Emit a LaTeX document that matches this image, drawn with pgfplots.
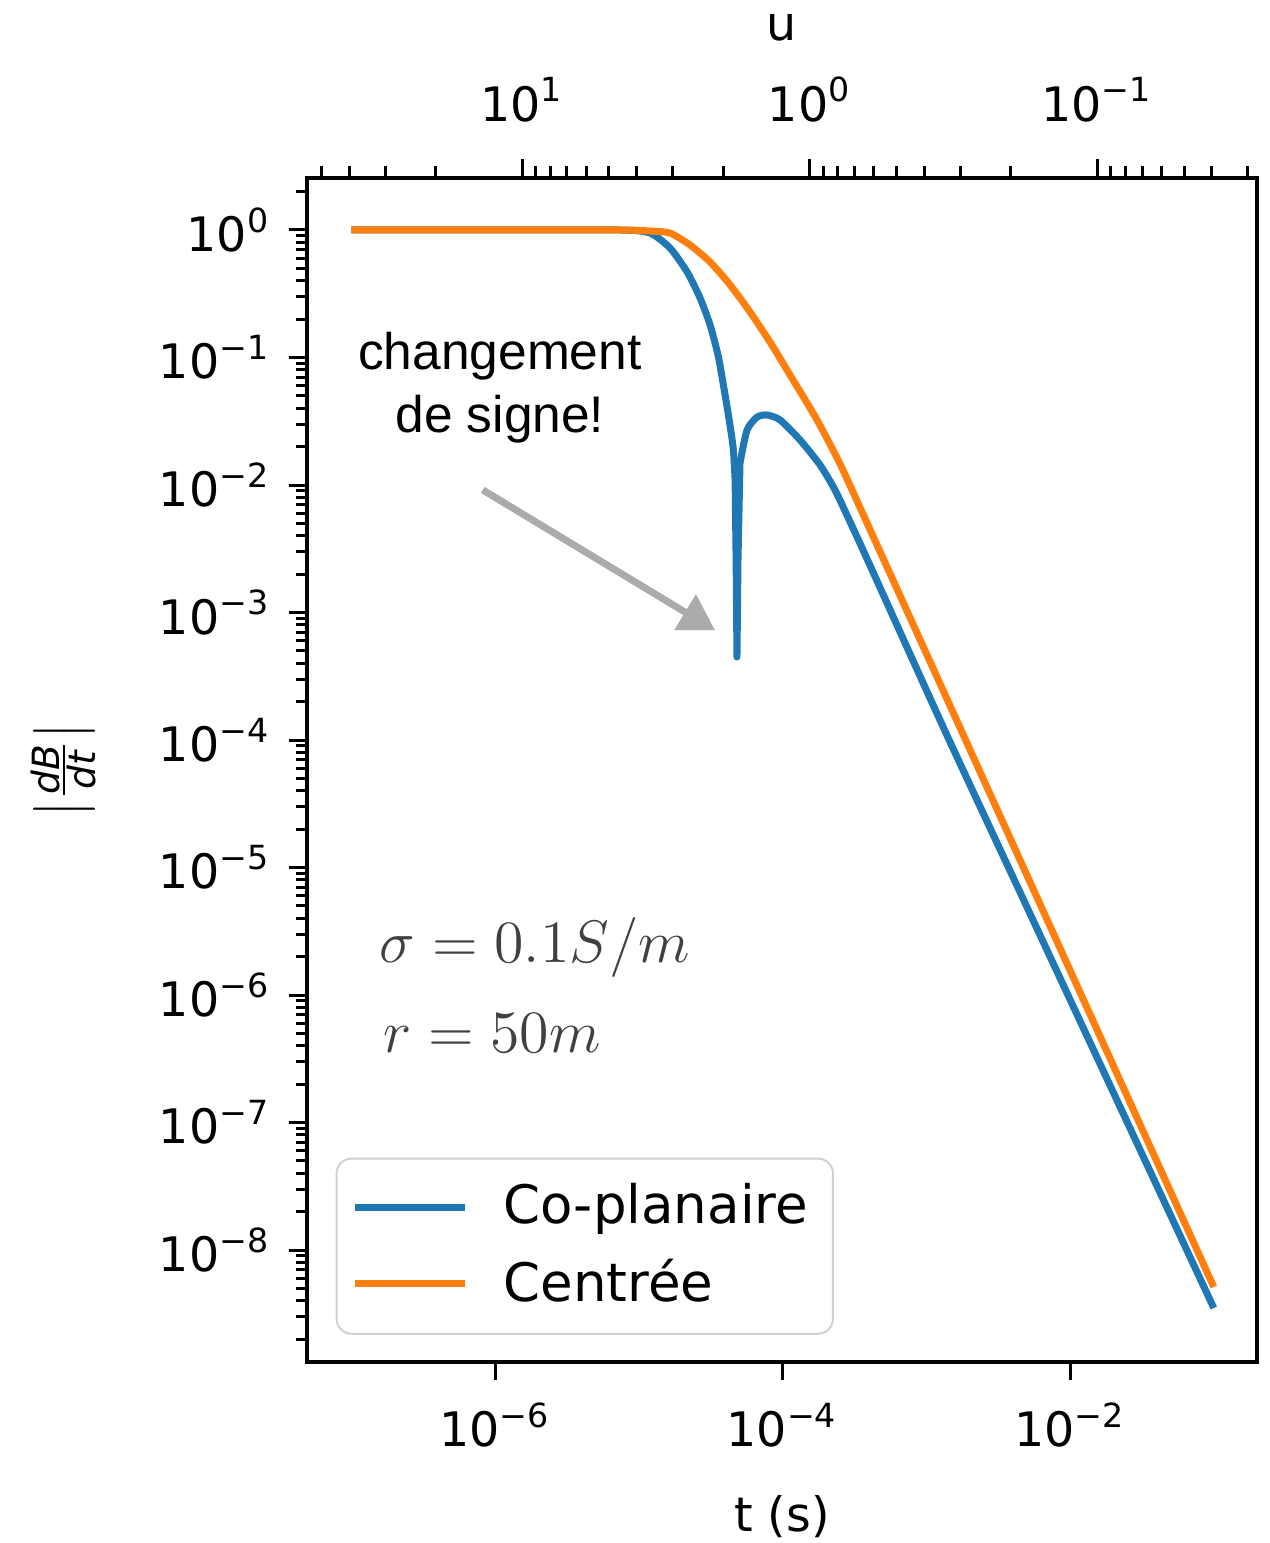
\documentclass[border=0pt]{standalone}
\usepackage{fontspec}
\setmainfont{DejaVu Sans}
\newfontfamily\helv{Liberation Sans}
\usepackage{pgfplots}
\pgfplotsset{compat=1.18}
\usetikzlibrary{arrows.meta}
\definecolor{tabblue}{HTML}{1F77B4}
\definecolor{taborange}{HTML}{FF7F0E}
\newcommand{\ee}[1]{10\textsuperscript{#1}}

\begin{document}
\begin{tikzpicture}
% main axis: t on the bottom
\begin{axis}[
    scale only axis, width=190pt, height=236.8pt,
    xmode=log, ymode=log,
    xmin=4.92e-8, xmax=0.2,
    ymin=1.324e-9, ymax=2.56,
    clip=false,
    axis line style={line width=0.8pt},
    tick align=outside,
    major tick length=3.7pt, minor tick length=2.3pt,
    every tick/.append style={line width=0.6pt, black},
    xtick pos=left, ytick pos=left,
    xtick={1e-6,1e-4,1e-2},
    xticklabels={\ee{−6},\ee{−4},\ee{−2}},
    xminorticks=false,
    ytick={1e-8,1e-7,1e-6,1e-5,1e-4,1e-3,1e-2,1e-1,1},
    yticklabels={\ee{−8},\ee{−7},\ee{−6},\ee{−5},\ee{−4},\ee{−3},\ee{−2},\ee{−1},\ee{0}},
    minor ytick={2e-9,3e-9,4e-9,5e-9,6e-9,7e-9,8e-9,9e-9,
                 2e-8,3e-8,4e-8,5e-8,6e-8,7e-8,8e-8,9e-8,
                 2e-7,3e-7,4e-7,5e-7,6e-7,7e-7,8e-7,9e-7,
                 2e-6,3e-6,4e-6,5e-6,6e-6,7e-6,8e-6,9e-6,
                 2e-5,3e-5,4e-5,5e-5,6e-5,7e-5,8e-5,9e-5,
                 2e-4,3e-4,4e-4,5e-4,6e-4,7e-4,8e-4,9e-4,
                 2e-3,3e-3,4e-3,5e-3,6e-3,7e-3,8e-3,9e-3,
                 2e-2,3e-2,4e-2,5e-2,6e-2,7e-2,8e-2,9e-2,
                 0.2,0.3,0.4,0.5,0.6,0.7,0.8,0.9,2},
    tick label style={font=\fontsize{9.5}{11}\selectfont},
    xticklabel style={yshift=-1pt},
    xlabel={t (s)},
    xlabel style={font=\fontsize{9.5}{11}\selectfont, inner sep=0pt, at={(axis description cs:0.5,-0.131)}, anchor=center},
    ylabel={\(\left|\frac{\textit{dB}}{\textit{dt}}\right|\)},
    ylabel style={font=\fontsize{7.5}{9}\selectfont, inner sep=0pt, at={(axis description cs:-0.256,0.5)}, anchor=center},
    legend style={at={(0.03,0.023)}, anchor=south west, draw=black!18,
        rounded corners=3pt, fill=white,
        font=\fontsize{10.6}{12}\selectfont, row sep=1.5pt,
        inner xsep=3pt, inner ysep=3pt,
        /tikz/every odd column/.append style={column sep=5pt}},
    legend cell align=left,
    legend image code/.code={\draw[#1, line width=1.4pt] (0pt,0pt) -- (22pt,0pt);},
]
% co-planaire: decay, sign change, late-time branch
\addplot[tabblue, line width=1.4pt, line join=round, smooth, tension=0.4] coordinates {
    (1e-7,1) (1e-6,1) (7.41e-6,1) (1.197e-5,0.946) (1.648e-5,0.7228)
    (2.168e-5,0.469) (2.667e-5,0.2931) (3.133e-5,0.1799) (3.556e-5,0.1047)
    (3.793e-5,0.0703) (4.178e-5,0.03673) (4.529e-5,0.01986) (4.677e-5,0.01094)
};
\addlegendentry{Co-planaire}
\addplot[tabblue, line width=1.4pt, line join=round, line cap=round, forget plot] coordinates {
    (4.677e-5,0.01094) (4.753e-5,2.582e-3) (4.819e-5,4.48e-4) (4.898e-5,2.582e-3) (5.058e-5,0.01489)
};
\addplot[tabblue, line width=1.4pt, line join=round, smooth, tension=0.4, forget plot] coordinates {
    (5.058e-5,0.01489) (5.662e-5,0.02698) (6.653e-5,0.03412) (7.798e-5,0.0354) (9.616e-5,0.03236)
    (1.324e-4,0.02254) (1.824e-4,0.01435) (2.317e-4,9.14e-3) (2.951e-4,5.13e-3) (3.873e-4,2.63e-3)
    (1.349e-3,1.177e-4) (4.864e-3,5.27e-6) (0.1,3.51e-9)
};
\addplot[taborange, line width=1.4pt, line join=round, smooth, tension=0.4] coordinates {
    (1e-7,1) (1e-6,1) (7.41e-6,1) (1.197e-5,0.982) (1.648e-5,0.946)
    (2.275e-5,0.762) (3.133e-5,0.561) (4.315e-5,0.371) (5.94e-5,0.2275)
    (8.18e-5,0.1324) (1.127e-4,0.0729) (1.738e-4,0.03236) (2.512e-4,0.01462)
    (3.573e-4,6.14e-3) (1.268e-3,2.65e-4) (6.18e-3,5.17e-6) (0.1,5.13e-9)
};
\addlegendentry{Centrée}

\node[font=\helv\fontsize{10.3}{12.6}\selectfont, align=center] at (rel axis cs:0.203,0.8226) {changement\\de signe!};
\draw[black!33, line width=1.4pt, -{Triangle[length=7pt,width=8pt]}]
    (rel axis cs:0.185,0.7365) -- (rel axis cs:0.4295,0.618);
\node[anchor=base west, text=black!75, font=\fontsize{12.3}{14}\selectfont] at (rel axis cs:0.058,0.337) {$\sigma = 0.1 S/m$};
\node[anchor=base west, text=black!75, font=\fontsize{12.3}{14}\selectfont] at (rel axis cs:0.062,0.261) {$r = 50 m$};
\path (rel axis cs:-0.3232,-0.1529) rectangle (rel axis cs:1.0126,1.1503);
\end{axis}

% twin axis: u on the top
\begin{axis}[
    scale only axis, width=190pt, height=236.8pt,
    xmode=log, x dir=reverse,
    xmin=0.02786, xmax=56.1, ymin=0, ymax=1,
    axis x line*=top, axis y line=none,
    axis line style={line width=0.8pt},
    tick align=outside,
    major tick length=3.7pt, minor tick length=2.3pt,
    every tick/.append style={line width=0.6pt, black},
    xtick={0.1,1,10},
    xticklabels={\ee{−1},\ee{0},\ee{1}},
    minor xtick={0.03,0.04,0.05,0.06,0.07,0.08,0.09,
                 0.2,0.3,0.4,0.5,0.6,0.7,0.8,0.9,
                 2,3,4,5,6,7,8,9,20,30,40,50},
    tick label style={font=\fontsize{9.5}{11}\selectfont},
    xticklabel style={yshift=4pt},
    xlabel={u},
    xlabel style={font=\fontsize{9.5}{11}\selectfont, inner sep=0pt, at={(axis description cs:0.5,1.127)}, anchor=center},
]
\addplot[draw=none] coordinates {(1,0.5)};
\end{axis}
\end{tikzpicture}
\end{document}
